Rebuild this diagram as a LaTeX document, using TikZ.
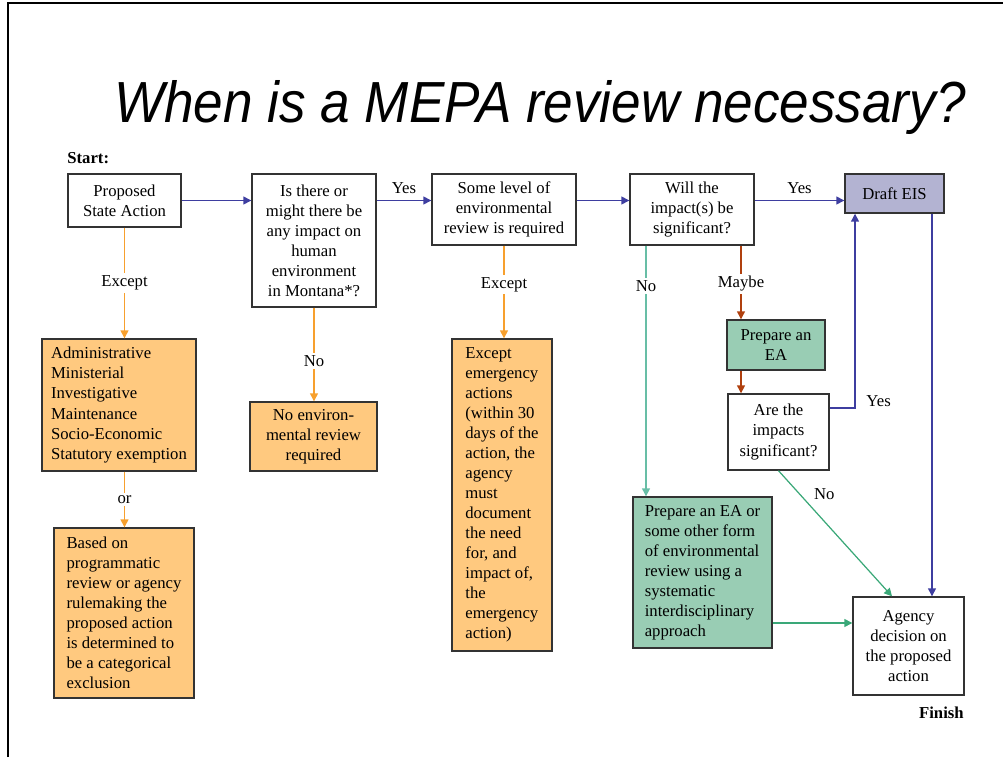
\documentclass[tikz,border=0pt]{standalone}
\usepackage{fontspec}
\setmainfont{Liberation Serif}
\newfontfamily\titlefont{Liberation Sans}
\usepackage{xcolor}
\usetikzlibrary{arrows.meta}

\definecolor{flowblue}{RGB}{62,62,160}
\definecolor{floworange}{RGB}{247,160,46}
\definecolor{boxorange}{RGB}{255,201,127}
\definecolor{boxgreen}{RGB}{153,205,180}
\definecolor{flowgreen}{RGB}{58,168,120}
\definecolor{flowteal}{RGB}{104,190,166}
\definecolor{flowbrown}{RGB}{176,64,14}
\definecolor{boxlilac}{RGB}{179,179,210}

\begin{document}
\begin{tikzpicture}[x=0.02cm,y=-0.02cm,
        box/.style={draw=black!80,line width=0.8pt,inner sep=2pt,align=center,
            font=\fontsize{9.5}{11.4}\selectfont},
        orangebox/.style={box,fill=boxorange},
        greenbox/.style={box,fill=boxgreen},
        link/.style={line width=0.7pt,-{Triangle[length=4.5pt,width=4.5pt]}},
        tag/.style={fill=white,text=black,inner sep=1.5pt,font=\fontsize{9.5}{11.4}\selectfont},
        sidetag/.style={text=black,font=\fontsize{9.5}{11.4}\selectfont}
    ]

        \useasboundingbox (0,0) rectangle (1003,757);

        % slide frame
        \draw[line width=0.03cm] (8,757) -- (8,3) -- (1003,3);

        \node[anchor=base,font=\titlefont\itshape\fontsize{30}{36}\selectfont] (title) at (540,122)
            {\scalebox{1.007}[1.1]{When is a MEPA review necessary?}};

        \node[anchor=base west,inner sep=0pt,font=\bfseries\fontsize{9.5}{11.4}\selectfont] (start) at (67,163) {Start:};
        \node[anchor=base east,inner sep=0pt,font=\bfseries\fontsize{9.5}{11.4}\selectfont] (finish) at (964,718) {Finish};

        % top row
        \node[box,minimum width=2.26cm,minimum height=1.06cm] (action) at (124.5,200.5)
            {Proposed\\State Action};
        \node[box,minimum width=2.48cm,minimum height=2.66cm] (impact) at (314,240.5)
            {Is there or\\might there be\\any impact on\\human\\environment\\in Montana*?};
        \node[box,minimum width=2.88cm,minimum height=1.42cm] (somereview) at (504,209.5)
            {Some level of\\environmental\\review is required};
        \node[box,minimum width=2.48cm,minimum height=1.42cm] (significant) at (692,209.5)
            {Will the\\impact(s) be\\significant?};
        \node[box,fill=boxlilac,minimum width=1.98cm,minimum height=0.78cm] (eis) at (894.5,193.5)
            {Draft EIS};

        % exceptions
        \node[orangebox,align=left,minimum width=3.08cm,minimum height=2.64cm] (exempt) at (119,405)
            {Administrative\\Ministerial\\Investigative\\Maintenance\\Socio-Economic\\Statutory exemption};
        \node[orangebox,align=left,minimum width=2.8cm,minimum height=3.4cm] (catex) at (124,613)
            {Based on\\programmatic\\review or agency\\rulemaking the\\proposed action\\is determined to\\be a categorical\\exclusion};
        \node[orangebox,minimum width=2.54cm,minimum height=1.38cm] (noreview) at (313.5,436.5)
            {No environ-\\mental review\\required};
        \node[orangebox,align=left,minimum width=2.0cm,minimum height=6.24cm] (emergency) at (502,495)
            {Except\\emergency\\actions\\(within 30\\days of the\\action, the\\agency\\must\\document\\the need\\for, and\\impact of,\\the\\emergency\\action)};

        % EA branch
        \node[greenbox,minimum width=1.96cm,minimum height=1.0cm] (prepea) at (776,345)
            {Prepare an\\EA};
        \node[box,minimum width=2.02cm,minimum height=1.52cm] (aresig) at (778.5,432)
            {Are the\\impacts\\significant?};
        \node[greenbox,align=left,minimum width=2.78cm,minimum height=3.02cm] (prepother) at (702.5,572.5)
            {Prepare an EA or\\some other form\\of environmental\\review using a\\systematic\\interdisciplinary\\approach};
        \node[box,minimum width=2.22cm,minimum height=1.96cm] (decision) at (908.5,646)
            {Agency\\decision on\\the proposed\\action};

        % blue main line
        \draw[link,flowblue] (action.east) -- (action.east -| impact.west);
        \draw[link,flowblue] (impact.east |- action.east) -- (somereview.west |- action.east)
            node[sidetag,midway,above] {Yes};
        \draw[link,flowblue] (somereview.east |- action.east) -- (significant.west |- action.east);
        \draw[link,flowblue] (significant.east |- action.east) -- (eis.west |- action.east)
            node[sidetag,midway,above] {Yes};
        \draw[link,flowblue] ([xshift=0.75cm]eis.south) -- ([xshift=0.75cm]eis.south |- decision.north);
        \draw[link,flowblue] ([yshift=0.48cm]aresig.east) -| ([xshift=-0.79cm]eis.south)
            node[sidetag,pos=0.5,anchor=west,xshift=0.1cm,yshift=0.14cm] {Yes};

        % orange exceptions
        \draw[link,floworange] (action.south) -- (action.south |- exempt.north)
            node[tag,midway] {Except};
        \draw[link,floworange] (action.south |- exempt.south) -- (action.south |- catex.north)
            node[tag,midway] {or};
        \draw[link,floworange] (impact.south) -- (impact.south |- noreview.north)
            node[tag,pos=0.57] {No};
        \draw[link,floworange] (somereview.south) -- (somereview.south |- emergency.north)
            node[tag,pos=0.42] {Except};

        % significance
        \draw[link,flowteal] ([xshift=-0.92cm]significant.south) -- ([xshift=-0.92cm]significant.south |- prepother.north)
            node[tag,pos=0.16] {No};
        \draw[link,flowbrown] ([xshift=0.98cm]significant.south) -- ([xshift=0.98cm]significant.south |- prepea.north)
            node[tag,pos=0.52] {Maybe};
        \draw[link,flowbrown] ([xshift=-0.7cm]prepea.south) -- ([xshift=-0.7cm]prepea.south |- aresig.north);
        \draw[link,flowgreen] (aresig.south) -- ([xshift=-0.33cm]decision.north)
            node[sidetag,pos=0.19,anchor=west,xshift=0.15cm] {No};
        \draw[link,flowgreen] ([yshift=-1.01cm]prepother.east) -- ([yshift=-1.01cm]prepother.east -| decision.west);

    \end{tikzpicture}
\end{document}
